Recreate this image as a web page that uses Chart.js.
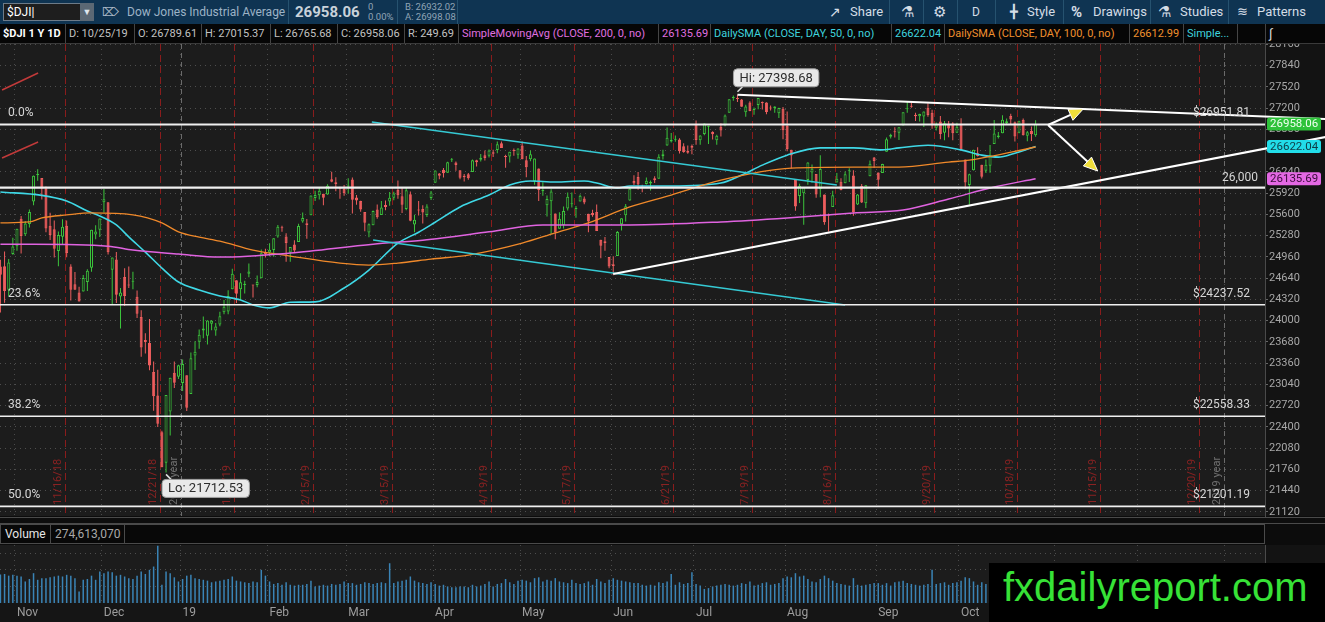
<!DOCTYPE html>
<html>
<head>
<meta charset="utf-8">
<title>$DJI 1 Y 1D</title>
<script src="https://cdn.jsdelivr.net/npm/chart.js@4.4.1/dist/chart.umd.min.js"></script>
<style>
  html, body { margin: 0; padding: 0; }
  body { width: 1325px; height: 622px; overflow: hidden; background: #0c0c0c; position: relative; font-family: Roboto, "Open Sans", Arial, sans-serif; }
  .abs { position: absolute; white-space: nowrap; }
  #toolbar { left: 0; top: 0; width: 1325px; height: 24px; background: #0f3452; z-index: 4; }
  #toolbar .t { position: absolute; top: 0; white-space: nowrap; color: #d4dde6; font-size: 13px; line-height: 24px; }
  #toolbar .s { position: absolute; white-space: nowrap; color: #8fa4b6; font-size: 9.5px; line-height: 10px; }
  #toolbar .sep { position: absolute; top: 0; width: 1px; height: 24px; background: #26526f; }
  #sym { left: 3px; top: 3px; width: 76px; height: 16px; background: #1e1e1e; border: 1px solid #6d7b88; color: #fff; font-size: 12px; line-height: 16px; padding-left: 3px; box-sizing: content-box; }
  #symdd { left: 80px; top: 3px; width: 14px; height: 18px; background: #5b6874; color: #dfe6ec; font-size: 9px; line-height: 18px; text-align: center; }
  #header { left: 0; top: 24px; width: 1325px; height: 19px; background: #060606; border-bottom: 1px solid #3a3a3a; z-index: 4; }
  #header .c { position: absolute; top: 0; height: 19px; line-height: 19px; font-size: 11px; color: #c2c2c2; border-right: 1px solid #454545; padding-left: 3px; box-sizing: border-box; white-space: nowrap; overflow: hidden; }
  #pricebox { left: 0; top: 30px; width: 1325px; height: 500px; z-index: 1; }
  #sep { left: 0; top: 517px; width: 1325px; height: 5px; background: #0d0d0d; border-top: 1px solid #4a4a4a; border-bottom: 1px solid #4a4a4a; z-index: 3; }
  #volhead { left: 0; top: 524px; width: 1263px; height: 18px; background: #080808; border: 1px solid #4a4a4a; z-index: 3; }
  #volhead .c { position: absolute; top: 0; height: 18px; line-height: 18px; font-size: 12px; border-right: 1px solid #4a4a4a; padding: 0 4px; white-space: nowrap; }
  #volbox { left: 0; top: 543px; width: 1325px; height: 79px; z-index: 1; }
  #mark { left: 989px; top: 563px; width: 336px; height: 59px; background: #000; z-index: 5; }
  #mark span { position: absolute; left: 14px; top: 4px; font-family: "Liberation Sans", Arial, sans-serif; font-size: 40px; line-height: 40px; color: #37e237; }
</style>
</head>
<body>

<div id="toolbar" class="abs">
  <div id="sym" class="abs">$DJI<span style="color:#fff">|</span></div>
  <div id="symdd" class="abs">&#9660;</div>
  <div class="t" style="left:102px;color:#aab8c6;font-size:12px">&#8998;</div>
  <div class="t" style="left:127px;color:#9db3c6;font-size:12px">Dow Jones Industrial Average</div>
  <div class="sep" style="left:288px"></div>
  <div class="t" style="left:295px;color:#c9d2da;font-size:15px;font-weight:bold">26958.06</div>
  <div class="s" style="left:368px;top:2px">0</div>
  <div class="s" style="left:368px;top:12px">0.00%</div>
  <div class="sep" style="left:397px"></div>
  <div class="s" style="left:405px;top:2px">B: 26932.02</div>
  <div class="s" style="left:405px;top:12px">A: 26998.08</div>
  <div class="sep" style="left:457px"></div>

  <div class="t" style="left:829px;font-size:14px">&#8599;</div>
  <div class="t" style="left:850px">Share</div>
  <div class="sep" style="left:889px"></div>
  <div class="t" style="left:901px;font-size:15px">&#9879;</div>
  <div class="sep" style="left:923px"></div>
  <div class="t" style="left:933px;font-size:15px">&#9881;</div>
  <div class="sep" style="left:957px"></div>
  <div class="t" style="left:972px;font-size:12px">D</div>
  <div class="sep" style="left:995px"></div>
  <div class="t" style="left:1010px;font-size:13px">&#9547;</div>
  <div class="t" style="left:1027px">Style</div>
  <div class="sep" style="left:1063px"></div>
  <div class="t" style="left:1071px;font-size:15px;font-weight:bold">%</div>
  <div class="t" style="left:1093px">Drawings</div>
  <div class="sep" style="left:1150px"></div>
  <div class="t" style="left:1158px;font-size:15px">&#9879;</div>
  <div class="t" style="left:1180px">Studies</div>
  <div class="sep" style="left:1228px"></div>
  <div class="t" style="left:1237px;font-size:13px">&#8779;</div>
  <div class="t" style="left:1257px">Patterns</div>
</div>

<div id="header" class="abs">
  <div class="c" style="left:0;width:66px;color:#fff;font-weight:bold">$DJI 1 Y 1D</div>
  <div class="c" style="left:66px;width:69px">D: 10/25/19</div>
  <div class="c" style="left:135px;width:67px">O: 26789.61</div>
  <div class="c" style="left:202px;width:69px">H: 27015.37</div>
  <div class="c" style="left:271px;width:67px">L: 26765.68</div>
  <div class="c" style="left:338px;width:67px">C: 26958.06</div>
  <div class="c" style="left:405px;width:54px">R: 249.69</div>
  <div class="c" style="left:459px;width:200px;color:#e070e0">SimpleMovingAvg (CLOSE, 200, 0, no)</div>
  <div class="c" style="left:659px;width:52px;color:#e070e0">26135.69</div>
  <div class="c" style="left:711px;width:181px;color:#3fd3de">DailySMA (CLOSE, DAY, 50, 0, no)</div>
  <div class="c" style="left:892px;width:53px;color:#3fd3de">26622.04</div>
  <div class="c" style="left:945px;width:185px;color:#f0902e">DailySMA (CLOSE, DAY, 100, 0, no)</div>
  <div class="c" style="left:1130px;width:54px;color:#f0902e">26612.99</div>
  <div class="c" style="left:1184px;width:54px;color:#3fd3de">Simple...</div>
  <div class="c" style="left:1238px;width:28px"></div>
  <div class="c" style="left:1266px;width:59px;border-right:none;color:#ddd;font-size:13px">&#8747;</div>
</div>

<div id="pricebox" class="abs"><canvas id="price"></canvas></div>
<div id="sep" class="abs"></div>
<div id="volhead" class="abs">
  <div class="c" style="left:0;color:#e6e6e6">Volume</div>
  <div class="c" style="left:50px;color:#a8a8a8">274,613,070</div>
</div>
<div id="volbox" class="abs"><canvas id="volume"></canvas></div>
<div id="mark" class="abs"><span>fxdailyreport.com</span></div>

<script>
// trading days are counted from Nov 1 2018 (= day 0); first candle is Oct 26 2018
const firstDay = -4;
const xMin = -4.1;
const xMax = 301.4;

const opens = [
  24813, 24818, 24463, 25002,
  25120, 25532, 25300, 25454, 25791, 26191, 26145, 25988, 25428, 25374, 25046, 25261, 25426, 24813, 24547, 24420, 24435, 24578, 24796, 25294, 25368,
  25779, 25781, 24764, 24918, 24361, 24656, 24537, 24585, 24358, 24052, 23707, 23661, 23225, 22871, 22317, 21857, 22629, 23213, 23153,
  23058, 23177, 22894, 23474, 23680, 23848, 23770, 23953, 23849, 23940, 24126, 24134, 24471, 24605, 24469, 24533, 24704, 24536, 24535, 24637, 25020,
  25025, 25062, 25265, 25393, 25265, 25026, 25145, 25181, 25491, 25463, 25585, 25844, 25888, 25910, 25899, 26127, 26081, 25988, 25984,
  26019, 26122, 25853, 25800, 25633, 25325, 25434, 25670, 25588, 25738, 25793, 25849, 25970, 25873, 25680, 25901, 25447, 25660, 25680, 25590, 25843,
  26076, 26214, 26271, 26225, 26415, 26380, 26262, 26181, 26202, 26235, 26412, 26420, 26490, 26480, 26534, 26566, 26670, 26468, 26468, 26562, 26497,
  26636, 26415, 26428, 26096, 26290, 25949, 25737, 25797, 25613, 25383, 25439, 25686, 25749, 25679, 25791, 25836, 25607, 25620, 25635, 25215, 25192, 24956,
  24848, 24971, 25451, 25586, 25806, 26102, 26160, 26007, 26055, 26063, 26141, 26134, 26475, 26636, 26694, 26723, 26725, 26624, 26556, 26632,
  26963, 26714, 26807, 26919, 26840, 26713, 26917, 26940, 27130, 27349, 27352, 27327, 27138, 27283, 27169, 27244, 27289, 27282, 27195, 27198, 27121, 27188,
  26937, 26572, 26121, 25875, 25915, 26117, 26230, 26208, 25978, 25898, 25592, 25709, 26078, 26091, 26067, 26248, 26182, 25746, 26027, 25764, 26172, 26456,
  26229, 26221, 26541, 26769, 26837, 26826, 26936, 27180, 27232, 27097, 27076, 27074, 27204, 27127, 26903, 26998, 26826, 26964, 26965, 26827,
  26963, 26425, 26039, 26264, 26517, 26345, 26254, 26331, 26659, 26763, 26820, 26969, 27080, 26987, 26827, 27019, 26783, 26858, 26789.61
];
const highs = [
  24916, 25040, 24927, 25248,
  25380, 25573, 25498, 25673, 26185, 26277, 26145, 26019, 25621, 25505, 25342, 25523, 25507, 24849, 24732, 24507, 24685, 24771, 25366, 25433, 25538,
  25980, 25781, 24947, 25031, 24489, 24787, 24812, 24734, 24450, 24156, 23809, 24023, 23382, 23259, 22339, 22878, 23138, 23381, 23333,
  23413, 23177, 23518, 23687, 23865, 24059, 24002, 24007, 23964, 24133, 24308, 24456, 24778, 24605, 24713, 24600, 24860, 24539, 24676, 25068, 25081,
  25165, 25239, 25439, 25426, 25314, 25106, 25208, 25458, 25625, 25530, 25883, 25953, 26007, 25910, 26052, 26241, 26156, 26016, 26039,
  26143, 26155, 25891, 25805, 25633, 25460, 25655, 25746, 25800, 25807, 25935, 25940, 26110, 26000, 25998, 25943, 25591, 25800, 25734, 25749, 25949,
  26259, 26220, 26296, 26389, 26447, 26394, 26262, 26207, 26220, 26425, 26421, 26507, 26559, 26577, 26572, 26696, 26695, 26497, 26543, 26589, 26594,
  26695, 26479, 26560, 26441, 26290, 26082, 25882, 25975, 25613, 25629, 25715, 25929, 25928, 25723, 25898, 25866, 25607, 25667, 25748, 25215, 25258, 24956,
  24968, 25347, 25539, 25753, 26011, 26188, 26236, 26044, 26152, 26107, 26172, 26502, 26573, 26907, 26822, 26787, 26745, 26669, 26637, 26650,
  27013, 26790, 26967, 26934, 26851, 26799, 26970, 27104, 27332, 27388, 27398.68, 27336, 27250, 27303, 27208, 27350, 27299, 27286, 27238, 27228, 27203, 27215,
  27146, 26572, 26121, 26059, 26012, 26383, 26348, 26208, 26487, 25898, 25613, 25954, 26223, 26144, 26244, 26293, 26264, 25906, 26054, 26040, 26408, 26461,
  26229, 26359, 26757, 26812, 26911, 26911, 27137, 27306, 27306, 27130, 27114, 27148, 27272, 27172, 26982, 27080, 27003, 27005, 26987, 26979,
  27046, 26425, 26211, 26573, 26609, 26345, 26426, 26643, 27020, 26839, 27092, 27041, 27115, 26997, 27007, 27043, 26854, 26920, 27015.37
];
const lows = [
  24122, 24268, 24367, 24992,
  25052, 25010, 25271, 25400, 25736, 26104, 25822, 25330, 25211, 24949, 24817, 25149, 24954, 24303, 24463, 24285, 24435, 24446, 24735, 25223, 25257,
  25627, 24993, 24242, 24263, 23881, 24220, 24491, 24470, 24037, 23454, 23503, 23250, 22640, 22397, 21792, 21712.53, 22267, 22982, 23118,
  22939, 22638, 22894, 23254, 23573, 23733, 23640, 23852, 23771, 23912, 24094, 24093, 24471, 24262, 24313, 24406, 24653, 24346, 24500, 24636, 24947,
  24969, 24962, 25247, 25336, 24883, 24883, 25023, 25181, 25472, 25231, 25585, 25800, 25823, 25734, 25892, 26083, 25947, 25833, 25878,
  25907, 25611, 25743, 25637, 25345, 25252, 25434, 25531, 25588, 25660, 25730, 25811, 25833, 25620, 25662, 25496, 25329, 25582, 25459, 25558, 25816,
  26075, 26129, 26153, 26225, 26387, 26255, 26129, 26092, 26121, 26235, 26320, 26396, 26409, 26453, 26463, 26520, 26596, 26299, 26381, 26483, 26435,
  26428, 26158, 26397, 26043, 25800, 25878, 25566, 25305, 25225, 25383, 25384, 25658, 25702, 25546, 25791, 25752, 25328, 25561, 25347, 24938, 25051, 24788,
  24680, 24971, 25357, 25490, 25802, 26041, 25969, 25933, 26049, 25958, 26072, 26134, 26425, 26631, 26680, 26692, 26515, 26527, 26512, 26502,
  26646, 26648, 26791, 26657, 26727, 26647, 26772, 26924, 27130, 27309, 27289, 27219, 27068, 27151, 27098, 27181, 27176, 27107, 27162, 27129, 27048, 26730,
  26549, 26289, 25652, 25770, 25441, 26044, 26074, 25849, 25858, 25442, 25339, 25709, 26078, 25961, 26067, 26084, 25578, 25740, 25769, 25694, 26172, 26298,
  25979, 26221, 26541, 26741, 26757, 26719, 26935, 27128, 27204, 27006, 26997, 26915, 27069, 26887, 26860, 26731, 26713, 26760, 26713, 26827,
  26566, 25975, 25744, 26260, 26469, 26139, 26222, 26224, 26659, 26741, 26820, 26952, 26954, 26696, 26820, 26786, 26700, 26705, 26765.68
];
const closes = [
  24688, 24443, 24874, 25116,
  25380, 25271, 25462, 25635, 26180, 26191, 25989, 25387, 25286, 25080, 25289, 25413, 25018, 24465, 24464, 24286, 24640, 24748, 25366, 25339, 25538,
  25826, 25027, 24947, 24389, 24423, 24370, 24527, 24597, 24101, 23592, 23675, 23324, 22859, 22445, 21792, 22878, 23138, 23062, 23327,
  23346, 22686, 23433, 23531, 23787, 23879, 24001, 23996, 23910, 24065, 24207, 24370, 24706, 24404, 24575, 24553, 24737, 24528, 24580, 25014, 24999,
  25064, 25239, 25411, 25390, 25169, 25106, 25053, 25425, 25543, 25439, 25883, 25891, 25954, 25850, 26031, 26091, 26057, 25985, 25916,
  26026, 25819, 25806, 25673, 25473, 25450, 25650, 25554, 25702, 25709, 25849, 25914, 25887, 25745, 25962, 25502, 25516, 25657, 25626, 25717, 25929,
  26258, 26179, 26218, 26384, 26425, 26341, 26150, 26157, 26143, 26412, 26384, 26452, 26449, 26559, 26511, 26656, 26597, 26462, 26543, 26554, 26592,
  26430, 26307, 26504, 26438, 25965, 25967, 25828, 25942, 25324, 25532, 25648, 25862, 25764, 25679, 25877, 25776, 25490, 25585, 25347, 25126, 25169, 24815,
  24819, 25332, 25539, 25720, 25983, 26062, 26048, 26004, 26106, 26090, 26112, 26465, 26504, 26753, 26719, 26727, 26548, 26536, 26526, 26600,
  26718, 26787, 26966, 26922, 26806, 26783, 26860, 27088, 27332, 27359, 27336, 27220, 27223, 27154, 27172, 27349, 27270, 27141, 27192, 27222, 27199, 26864,
  26583, 26485, 25718, 26030, 26008, 26379, 26287, 25897, 26280, 25479, 25579, 25886, 26136, 25962, 26202, 26253, 25629, 25898, 25778, 26036, 26362, 26403,
  26118, 26356, 26728, 26797, 26836, 26910, 27137, 27182, 27220, 27076, 27111, 27147, 27094, 26935, 26950, 26808, 26970, 26891, 26820, 26917,
  26573, 26078, 26201, 26573, 26478, 26164, 26347, 26497, 26817, 26787, 27025, 27001, 27026, 26770, 27000, 26788, 26834, 26806, 26958.06
];
// volume in millions of shares
const volumes = [
  345, 350, 330, 340,
  330, 320, 260, 290, 360, 280, 300, 300, 310, 320, 330, 320, 340, 330, 300, 140, 280, 290, 330, 280, 380,
  360, 380, 370, 330, 340, 320, 300, 290, 330, 380, 350, 400, 440, 690, 220, 380, 360, 310, 260,
  290, 330, 340, 300, 290, 280, 270, 250, 260, 270, 280, 290, 320, 270, 260, 250, 240, 260, 250, 400, 330,
  260, 230, 240, 220, 250, 220, 210, 220, 220, 230, 270, 200, 210, 220, 210, 230, 220, 230, 260,
  240, 240, 220, 230, 250, 240, 230, 240, 250, 240, 480, 240, 260, 270, 280, 320, 270, 250, 240, 230, 250,
  230, 210, 220, 200, 190, 190, 200, 200, 190, 220, 200, 210, 230, 260, 200, 230, 240, 290, 250, 230, 270,
  280, 270, 250, 300, 310, 260, 280, 270, 300, 260, 250, 240, 280, 240, 230, 240, 260, 220, 290, 260, 240, 280,
  300, 280, 270, 260, 250, 240, 240, 220, 210, 220, 210, 250, 240, 260, 350, 220, 250, 230, 240, 370,
  230, 210, 170, 180, 200, 210, 220, 230, 220, 210, 220, 240, 230, 260, 210, 220, 240, 250, 220, 230, 240, 300,
  320, 310, 360, 320, 330, 290, 260, 250, 290, 330, 300, 270, 240, 230, 220, 210, 300, 220, 210, 220, 230, 240,
  240, 220, 240, 210, 250, 260, 270, 240, 230, 220, 210, 220, 230, 400, 230, 240, 250, 220, 240, 250,
  270, 310, 300, 260, 220, 250, 230, 240, 290, 200, 240, 230, 240, 270, 220, 240, 230, 250, 274.61
];

const sma50Days = [-4, 6, 12, 17, 20, 24, 27, 31, 35, 39, 44, 49, 54, 57, 61, 66, 72, 79, 85, 92, 97, 101, 107, 114, 119,
  124, 130, 137, 140, 145, 148, 158, 170, 175, 180, 186, 194, 202, 209, 213, 220, 228, 233, 237, 241, 246];
const sma50 = [25935, 25885, 25800, 25650, 25575, 25440, 25260, 25030, 24790, 24580, 24460, 24370, 24310, 24235, 24190,
  24275, 24280, 24490, 24760, 25165, 25330, 25480, 25710, 25890, 26040, 26100, 26085, 26100, 26070, 25995,
  26025, 26025, 26070, 26190, 26340, 26490, 26600, 26600, 26570, 26600, 26640, 26570, 26490, 26460, 26520, 26622.04];
const sma100Days = [-4, 3, 6, 12, 18, 28, 35, 39, 44, 49, 57, 66, 78, 85, 92, 100, 109, 122, 130, 138, 148, 158, 170, 187, 202, 213, 225, 230, 246];
const sma100 = [25470, 25485, 25545, 25590, 25620, 25590, 25470, 25335, 25255, 25195, 25060, 24970, 24865, 24835, 24865,
  24925, 24985, 25165, 25320, 25470, 25710, 25890, 26115, 26295, 26310, 26310, 26385, 26415, 26612.99];
const sma200Days = [-4, 4, 22, 28, 39, 49, 66, 86, 98, 114, 127, 148, 170, 186, 202, 214, 225, 236, 246];
const sma200 = [25150, 25150, 25120, 25060, 25000, 24955, 25015, 25150, 25210, 25335, 25440, 25440, 25485, 25545, 25620, 25665, 25830, 26010, 26135.69];

const priceTicks = [21120, 21440, 21760, 22080, 22400, 22720, 23040, 23360, 23680, 24000, 24320, 24640,
  24960, 25280, 25600, 25920, 26240, 26560, 26880, 27200, 27520, 27840, 28160];
const volumeTicks = [200, 400, 600];
const monthDays = [0, 21, 40, 61, 80, 101, 122, 144, 164, 186, 208, 228, 251, 271, 292];
const monthNames = ['Nov', 'Dec', '19', 'Feb', 'Mar', 'Apr', 'May', 'Jun', 'Jul', 'Aug', 'Sep', 'Oct', 'Nov', 'Dec', '20'];
const expiryDays = [11, 34, 52, 71, 90, 114, 134, 158, 177, 197, 221, 241, 261, 285];
const expiryNames = ['11/16/18', '12/21/18', '1/18/19', '2/15/19', '3/15/19', '4/19/19', '5/17/19', '6/21/19',
  '7/19/19', '8/16/19', '9/20/19', '10/18/19', '11/15/19', '12/20/19'];
const yearDays = [40, 292];
const yearNames = ['2018 year', '2019 year'];

const fibLevels = [26951.81, 24237.52, 22558.33, 21201.19];
const fibNames = ['0.0%', '23.6%', '38.2%', '50.0%'];
const roundLevel = 26000;

// hand drawn lines, as [day, price] pairs
const topLine = [[174, 27398.68], [316, 27034]];
const bottomLine = [[144, 24700], [316, 26763]];
const channelTop = [[85.7, 26989], [198, 26040]];
const channelBottom = [[86, 25212], [200, 24233]];
const redMarks = [[[-3.6, 27471], [5.1, 27727]], [[-3.6, 26447], [5.1, 26688]]];
const arrowFrom = [249, 26944];
const arrowTo = [[257.5, 27185], [261, 26251]];

const GREEN = '#3cc53c';
const RED = '#ef5e5e';
const PLOT_BG = '#1c1c1c';
const AXIS_BG = '#131313';
const FONT = 'Roboto, "Open Sans", sans-serif';

const days = closes.map((c, i) => i + firstDay);
const up = closes.map((c, i) => c >= opens[i]);
const pts = arr => arr.map(p => ({ x: p[0], y: p[1] }));
const series = (d, v) => d.map((x, i) => ({ x: x, y: v[i] }));
const flat = v => [{ x: xMin, y: v }, { x: xMax, y: v }];

function lineSet(data, color, width, order, extra) {
  return Object.assign({
    type: 'line', data: data, borderColor: color, borderWidth: width,
    pointRadius: 0, fill: false, order: order, clip: false
  }, extra || {});
}

function fillBackground(chart) {
  const { ctx, chartArea: a } = chart;
  ctx.save();
  ctx.fillStyle = AXIS_BG;
  ctx.fillRect(a.right, a.top, chart.width - a.right, a.bottom - a.top);
  ctx.fillStyle = PLOT_BG;
  ctx.fillRect(a.left, a.top, a.right - a.left, a.bottom - a.top);
  ctx.restore();
}

function tag(ctx, text, px, py, above) {
  ctx.font = '13px ' + FONT;
  const w = ctx.measureText(text).width + 12;
  const h = 18;
  const bx = px - 4;
  const by = above ? py - 26 : py + 7;
  ctx.strokeStyle = '#e0e0e0';
  ctx.lineWidth = 1.5;
  ctx.beginPath();
  ctx.moveTo(px, above ? py - 3 : py + 2);
  ctx.lineTo(px + 5, above ? by + h : by);
  ctx.stroke();
  ctx.beginPath();
  ctx.roundRect(bx, by, w, h, 4);
  ctx.fillStyle = '#e9e9e9';
  ctx.fill();
  ctx.strokeStyle = '#a0a0a0';
  ctx.lineWidth = 1;
  ctx.stroke();
  ctx.fillStyle = '#2d2d2d';
  ctx.textAlign = 'left';
  ctx.textBaseline = 'middle';
  ctx.fillText(text, bx + 6, by + h / 2 + 0.5);
}

const priceDecor = {
  id: 'priceDecor',
  beforeDraw: fillBackground,
  beforeDatasetsDraw(chart) {
    const { ctx, chartArea: a, scales: { x } } = chart;
    ctx.save();
    ctx.beginPath();
    ctx.rect(a.left, a.top, a.right - a.left, a.bottom - a.top);
    ctx.clip();
    ctx.lineWidth = 1;
    ctx.font = '11px ' + FONT;
    ctx.textAlign = 'left';
    ctx.textBaseline = 'bottom';
    const vline = (day, color, dash, label, labelColor) => {
      const px = Math.round(x.getPixelForValue(day)) + 0.5;
      ctx.strokeStyle = color;
      ctx.setLineDash(dash);
      ctx.beginPath();
      ctx.moveTo(px, a.top);
      ctx.lineTo(px, a.bottom);
      ctx.stroke();
      ctx.save();
      ctx.translate(px - 2, a.bottom - 11);
      ctx.rotate(-Math.PI / 2);
      ctx.fillStyle = labelColor;
      ctx.fillText(label, 0, 0);
      ctx.restore();
    };
    expiryDays.forEach((d, k) => vline(d + 0.5, '#8a1c1c', [7, 4], expiryNames[k], '#8a2222'));
    yearDays.forEach((d, k) => vline(d - 0.5, '#6b6b6b', [5, 4], yearNames[k], '#707070'));
    ctx.restore();
  },
  afterDatasetsDraw(chart) {
    const { ctx, chartArea: a, scales: { x, y } } = chart;
    ctx.save();
    ctx.font = '12px ' + FONT;
    ctx.fillStyle = '#d6d6d6';
    ctx.textBaseline = 'bottom';
    fibLevels.forEach((v, k) => {
      const py = y.getPixelForValue(v);
      ctx.textAlign = 'left';
      ctx.fillText(fibNames[k], a.left + 8, py - 5);
      ctx.textAlign = 'right';
      ctx.fillText('$' + v.toFixed(2), a.right - 15, py - 5);
    });
    ctx.textAlign = 'right';
    ctx.fillText(roundLevel.toLocaleString('en-US'), a.right - 7, y.getPixelForValue(roundLevel) - 4);

    // projection arrows
    const sx = x.getPixelForValue(arrowFrom[0]);
    const sy = y.getPixelForValue(arrowFrom[1]);
    arrowTo.forEach(t => {
      const ex = x.getPixelForValue(t[0]);
      const ey = y.getPixelForValue(t[1]);
      const ang = Math.atan2(ey - sy, ex - sx);
      const bx = ex - 14 * Math.cos(ang);
      const by = ey - 14 * Math.sin(ang);
      ctx.strokeStyle = '#ffffff';
      ctx.lineWidth = 2;
      ctx.beginPath();
      ctx.moveTo(sx, sy);
      ctx.lineTo(bx, by);
      ctx.stroke();
      ctx.beginPath();
      ctx.moveTo(ex, ey);
      ctx.lineTo(bx - 6 * Math.sin(ang), by + 6 * Math.cos(ang));
      ctx.lineTo(bx + 6 * Math.sin(ang), by - 6 * Math.cos(ang));
      ctx.closePath();
      ctx.fillStyle = '#f0df3a';
      ctx.fill();
      ctx.strokeStyle = '#ffffff';
      ctx.lineWidth = 1;
      ctx.stroke();
    });

    const hi = highs.indexOf(Math.max(...highs));
    const lo = lows.indexOf(Math.min(...lows));
    tag(ctx, 'Hi: ' + highs[hi].toFixed(2), x.getPixelForValue(days[hi]), y.getPixelForValue(highs[hi]), true);
    tag(ctx, 'Lo: ' + lows[lo].toFixed(2), x.getPixelForValue(days[lo]), y.getPixelForValue(lows[lo]), false);
    ctx.restore();
  },
  afterDraw(chart) {
    const { ctx, chartArea: a, scales: { y } } = chart;
    const badges = [
      [closes[closes.length - 1], '#2ec23a', '#f0fff0'],
      [sma50[sma50.length - 1], '#22dde9', '#0f3c46'],
      [sma200[sma200.length - 1], '#e368e3', '#3b0d3b']
    ];
    ctx.save();
    ctx.font = '11.5px ' + FONT;
    ctx.textAlign = 'left';
    ctx.textBaseline = 'middle';
    badges.forEach(b => {
      const py = y.getPixelForValue(b[0]);
      ctx.beginPath();
      ctx.roundRect(a.right + 2, py - 6.5, 54, 13, 2.5);
      ctx.fillStyle = b[1];
      ctx.fill();
      ctx.fillStyle = b[2];
      ctx.fillText(b[0].toFixed(2), a.right + 5, py + 0.5);
    });
    ctx.restore();
  }
};

const volumeDecor = {
  id: 'volumeDecor',
  beforeDraw(chart) {
    const { ctx, chartArea: a } = chart;
    ctx.save();
    ctx.fillStyle = '#151515';
    ctx.fillRect(0, a.bottom, chart.width, chart.height - a.bottom);
    ctx.restore();
    fillBackground(chart);
  }
};

const monthTicks = scale => { scale.ticks = monthDays.map(d => ({ value: d - 0.5 })); };

new Chart(document.getElementById('price'), {
  type: 'bar',
  data: {
    datasets: [
      ...fibLevels.map((v, k) => lineSet(flat(v), '#f0f0f0', k === 0 ? 2.2 : 1.6, 1)),
      lineSet(flat(roundLevel), '#f0f0f0', 2.2, 1),
      lineSet(pts(topLine), '#ffffff', 2, 2),
      lineSet(pts(bottomLine), '#ffffff', 2, 2),
      lineSet(pts(channelTop), '#35c9d3', 1.5, 2),
      lineSet(pts(channelBottom), '#35c9d3', 1.5, 2),
      ...redMarks.map(m => lineSet(pts(m), '#c23a3a', 1.5, 2)),
      lineSet(series(sma200Days, sma200), '#e063e0', 1.5, 3, { cubicInterpolationMode: 'monotone' }),
      lineSet(series(sma100Days, sma100), '#f0892a', 1.3, 3, { cubicInterpolationMode: 'monotone' }),
      lineSet(series(sma50Days, sma50), '#3fd8e6', 1.6, 3, { cubicInterpolationMode: 'monotone' }),
      {
        type: 'bar',
        data: days.map((d, i) => ({ x: d, y: [opens[i], closes[i]] })),
        backgroundColor: c => up[c.dataIndex] ? PLOT_BG : RED,
        borderColor: c => up[c.dataIndex] ? GREEN : RED,
        borderWidth: 1, borderSkipped: false, barThickness: 3, minBarLength: 1,
        grouped: false, inflateAmount: 0, order: 4
      },
      {
        type: 'bar',
        data: days.map((d, i) => ({ x: d, y: [lows[i], highs[i]] })),
        backgroundColor: c => up[c.dataIndex] ? GREEN : RED,
        borderWidth: 0, barThickness: 1, grouped: false, inflateAmount: 0, order: 5
      }
    ]
  },
  options: {
    responsive: true,
    maintainAspectRatio: false,
    animation: false,
    events: [],
    layout: { padding: { top: 14, left: 0, right: 0, bottom: 0 } },
    plugins: { legend: { display: false }, tooltip: { enabled: false } },
    scales: {
      x: {
        type: 'linear', min: xMin, max: xMax, offset: false,
        grid: { color: '#4a4a4a', offset: false, drawTicks: false },
        border: { display: false, dash: [1, 4] },
        ticks: { display: false },
        afterBuildTicks: monthTicks,
        afterFit: s => { s.height = 14; }
      },
      y: {
        type: 'linear', position: 'right', min: 21056, max: 28164, beginAtZero: false,
        grid: { color: '#4e4e4e', drawTicks: true, tickLength: 3, tickColor: '#666' },
        border: { display: true, color: '#4a4a4a', dash: [1, 4] },
        ticks: { color: '#a8a8a8', font: { family: FONT, size: 11 }, padding: 1, callback: v => String(v) },
        afterBuildTicks: s => { s.ticks = priceTicks.map(v => ({ value: v })); },
        afterFit: s => { s.width = 60; }
      }
    }
  },
  plugins: [priceDecor]
});

new Chart(document.getElementById('volume'), {
  type: 'bar',
  data: {
    datasets: [{
      data: days.map((d, i) => ({ x: d, y: volumes[i] })),
      backgroundColor: '#3a84b6', borderWidth: 0, barThickness: 1.5, grouped: false, inflateAmount: 0
    }]
  },
  options: {
    responsive: true,
    maintainAspectRatio: false,
    animation: false,
    events: [],
    layout: { padding: { top: 2, left: 0, right: 0, bottom: 0 } },
    plugins: { legend: { display: false }, tooltip: { enabled: false } },
    scales: {
      x: {
        type: 'linear', min: xMin, max: xMax, offset: false,
        grid: { color: '#4a4a4a', offset: false, drawTicks: false },
        border: { display: false, dash: [1, 4] },
        ticks: {
          color: '#9c9c9c', font: { family: FONT, size: 12 }, align: 'start', labelOffset: 2,
          padding: 3, maxRotation: 0, autoSkip: false, callback: (v, i) => monthNames[i]
        },
        afterBuildTicks: monthTicks,
        afterFit: s => { s.height = 19; }
      },
      y: {
        type: 'linear', position: 'right', min: 0, max: 700,
        grid: { color: '#4e4e4e', drawTicks: false },
        border: { display: true, color: '#4a4a4a', dash: [1, 4] },
        ticks: { display: false },
        afterBuildTicks: s => { s.ticks = volumeTicks.map(v => ({ value: v })); },
        afterFit: s => { s.width = 60; }
      }
    }
  },
  plugins: [volumeDecor]
});
</script>
</body>
</html>
